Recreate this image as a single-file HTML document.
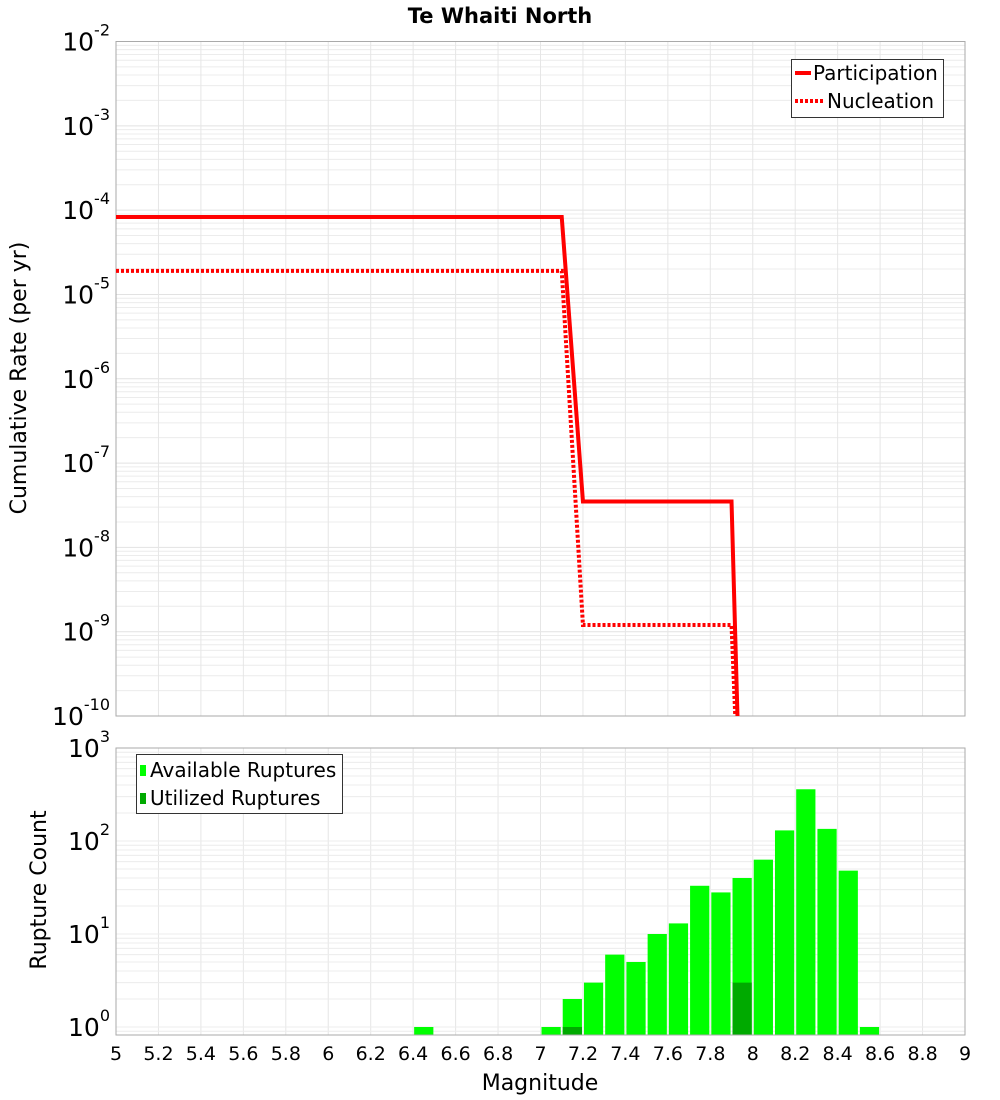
<!DOCTYPE html>
<html><head><meta charset="utf-8"><style>
body{margin:0;background:#fff;}
svg{display:block;font-family:"DejaVu Sans","Liberation Sans",sans-serif;}
</style></head><body>
<svg id="chart" width="1000" height="1100" xmlns="http://www.w3.org/2000/svg">
<text x="500" y="23" text-anchor="middle" font-size="21" font-weight="bold">Te Whaiti North</text>
<g id="gtop"></g>
<g id="gbot"></g>
<text transform="translate(26,378) rotate(-90)" text-anchor="middle" font-size="22">Cumulative Rate (per yr)</text>
<text transform="translate(46,890) rotate(-90)" text-anchor="middle" font-size="22">Rupture Count</text>
<text x="540" y="1090" text-anchor="middle" font-size="22">Magnitude</text>
<g>
<rect x="791.5" y="59.5" width="152" height="58" fill="#fff" stroke="#333"/>
<line x1="795" y1="73" x2="811" y2="73" stroke="#f00" stroke-width="4"/>
<text x="813" y="80" font-size="20">Participation</text>
<line x1="795" y1="101" x2="823" y2="101" stroke="#f00" stroke-width="4" stroke-dasharray="3,2"/>
<text x="827" y="108" font-size="20">Nucleation</text>
</g>
<g>
<rect x="136.5" y="754.5" width="206" height="59" fill="#fff" stroke="#333"/>
<rect x="140" y="765" width="6" height="11" fill="#00ff00"/>
<text x="150" y="777" font-size="20">Available Ruptures</text>
<rect x="140" y="793" width="6" height="11" fill="#00aa00"/>
<text x="150" y="805" font-size="20">Utilized Ruptures</text>
</g>
</svg>
<script>
const partMags=[5.0,7.1,7.2,7.9,7.95];
const partRates=[8.3e-5,8.3e-5,3.5e-8,3.5e-8,1e-12];
const nuclMags=[5.0,7.1,7.2,7.9,7.95];
const nuclRates=[1.9e-5,1.9e-5,1.2e-9,1.2e-9,1e-12];
const binStarts=[6.4,7.0,7.1,7.2,7.3,7.4,7.5,7.6,7.7,7.8,7.9,8.0,8.1,8.2,8.3,8.4,8.5];
const availCounts=[1,1,2,3,6,5,10,13,33,28,40,63,130,360,135,48,1];
const utilCounts=[0,0,1,0,0,0,0,0,0,0,3,0,0,0,0,0,0];
const xTicks=[5,5.2,5.4,5.6,5.8,6,6.2,6.4,6.6,6.8,7,7.2,7.4,7.6,7.8,8,8.2,8.4,8.6,8.8,9];
const topExps=[-2,-3,-4,-5,-6,-7,-8,-9,-10];
const botExps=[0,1,2,3];
const NS='http://www.w3.org/2000/svg';
const L=116,R=965;
const X=m=>L+(m-5)/4*(R-L);
const TT=41.5,TB=716;
const YT=v=>TT+(-2-Math.log10(v))*(TB-TT)/8;
const BT=748,BB=1035;
const YB=v=>BT+(3-Math.log10(v))*93;
function el(p,t,a){const e=document.createElementNS(NS,t);for(const k in a)e.setAttribute(k,a[k]);p.appendChild(e);return e;}
const gTop=document.getElementById('gtop'),gBot=document.getElementById('gbot');
el(gTop,'defs',{}).innerHTML='<clipPath id="ct"><rect x="116" y="41" width="849" height="675"/></clipPath>';
for(let e=-10;e<-2;e++)for(let k=1;k<10;k++){const y=YT(k*Math.pow(10,e));const g=el(gTop,'line',{x1:L,x2:R,y1:y,y2:y,stroke:k==1?'#e2e2e2':'#ececec','stroke-width':1});

}
for(const t of xTicks){const x=X(t);for(const [p,a,b] of [[gTop,TT,TB],[gBot,BT,BB]]){const g=el(p,'line',{x1:x,x2:x,y1:a,y2:b,stroke:'#e6e6e6'});

}}
el(gTop,'rect',{x:L,y:TT,width:R-L,height:TB-TT,fill:'none',stroke:'#aaa'});
function line(mags,rates,dash,name){const pts=mags.map((m,i)=>X(m)+','+YT(rates[i])).join(' ');
const p=el(gTop,'polyline',{points:pts,fill:'none',stroke:'#f00','stroke-width':4,'clip-path':'url(#ct)'});
if(dash)p.setAttribute('stroke-dasharray','3,2');

}
line(partMags,partRates,false,'participation-line');
line(nuclMags,nuclRates,true,'nucleation-line');
for(const e of topExps){const y=YT(Math.pow(10,e));const t=el(gTop,'text',{x:110,y:y+9,'text-anchor':'end','font-size':25});
t.innerHTML='10<tspan dy="-15" font-size="16">'+e+'</tspan>';

}
for(let e=-1;e<3;e++)for(let k=1;k<10;k++){const y=YB(k*Math.pow(10,e));if(y>BB||y<BT)continue;const g=el(gBot,'line',{x1:L,x2:R,y1:y,y2:y,stroke:'#ececec'});

}
binStarts.forEach((s,i)=>{const x=X(s)+1,w=X(s+0.1)-X(s)-2;
const b=el(gBot,'rect',{x:x,y:YB(availCounts[i]),width:w,height:BB-YB(availCounts[i]),fill:'#00ff00'});


if(utilCounts[i]>0){const u=el(gBot,'rect',{x:x,y:YB(utilCounts[i]),width:w,height:BB-YB(utilCounts[i]),fill:'#00aa00'});

}});
el(gBot,'rect',{x:L,y:BT,width:R-L,height:BB-BT,fill:'none',stroke:'#aaa'});
for(const e of botExps){const y=YB(Math.pow(10,e));const t=el(gBot,'text',{x:110,y:y+9,'text-anchor':'end','font-size':25});
t.innerHTML='10<tspan dy="-15" font-size="16">'+e+'</tspan>';

}
for(const tk of xTicks){const t=el(gBot,'text',{x:X(tk),y:1060,'text-anchor':'middle','font-size':19});
t.textContent=String(tk);

}
</script>
</body></html>
